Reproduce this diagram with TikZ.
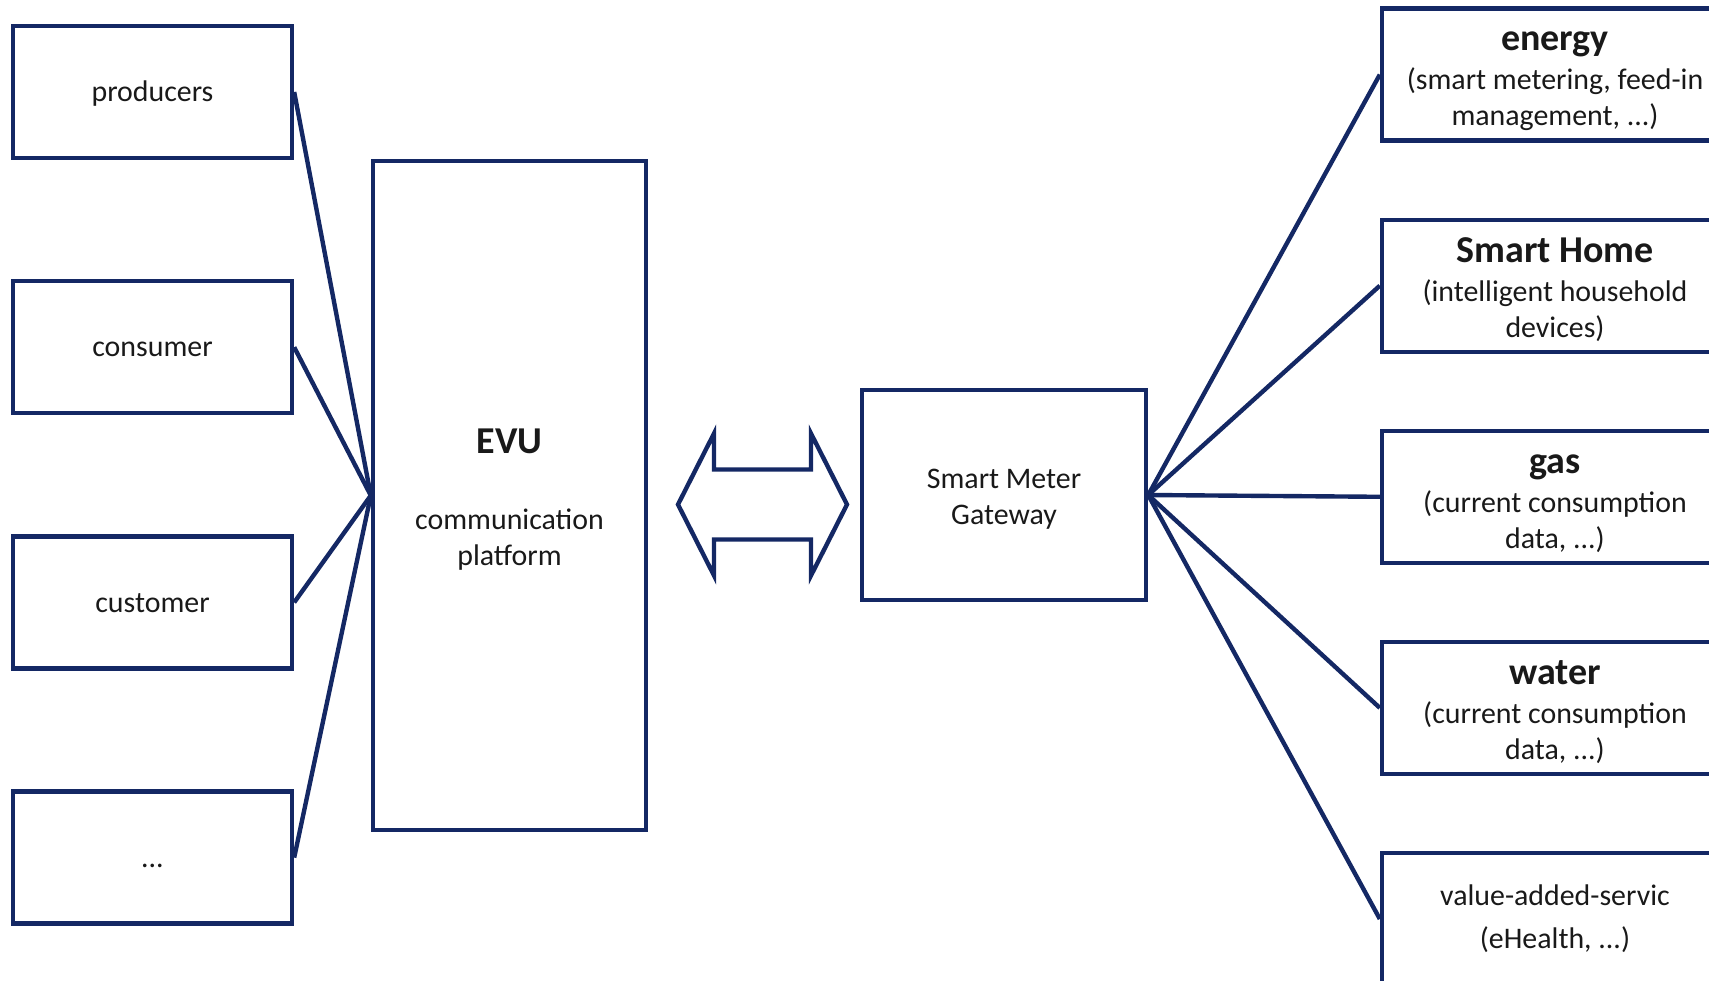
\documentclass[tikz,border=0pt]{standalone}
\usepackage{fontspec}
\setmainfont{Carlito}
\usepackage{tikz}
\usetikzlibrary{positioning,calc}
\usepackage{xcolor}

\definecolor{evublue}{RGB}{20,40,100}
\newcommand{\boxfont}{\fontsize{8.5pt}{10.2pt}\selectfont}
\newcommand{\titlefont}{\fontsize{10.8pt}{12pt}\selectfont\bfseries}
% bold first line of a box, with a strut so all titles sit alike
\newcommand{\boxtitle}[1]{{\titlefont\rule{0pt}{9.3pt}#1}}

\begin{document}
\begin{tikzpicture}[
    frame/.style={draw=evublue, line width=1.25pt},
    plainbox/.style={frame, inner sep=2pt, align=center, font=\boxfont, text=black!90},
    srcbox/.style={plainbox, minimum width=2.79cm, minimum height=1.32cm,
        text height=7.5pt, text depth=2pt},
    usebox/.style={plainbox, minimum width=3.46cm, minimum height=1.32cm},
    link/.style={draw=evublue, line width=1.25pt}
]
\useasboundingbox (0,0) rectangle (17.09,9.80);
\clip (0,0) rectangle (17.09,9.80);

% ---------------- Left column ----------------
\node[srcbox] (prod) at (1.525,8.88) {producers};
\node[srcbox, below=1.188cm of prod] (cons) {consumer};
\node[srcbox, below=1.188cm of cons] (cust) {customer};
\node[srcbox, below=1.188cm of cust] (etc) {...};

% ---------------- Platform and gateway ----------------
\node[plainbox, minimum width=2.73cm, minimum height=6.69cm] (evu) at (5.095,4.845)
    {\boxtitle{EVU}\\[11.5pt]communication\\platform};
\node[plainbox, minimum width=2.84cm, minimum height=2.10cm] (gw) at (10.04,4.85)
    {\rule{0pt}{8pt}Smart Meter\\Gateway};

% exchange arrow between both
\coordinate (xchg) at (7.625,4.755);
\draw[frame] (xchg) ++(-0.845,0) -- ++(0.36,0.71) -- ++(0,-0.36) -- ++(0.97,0)
    -- ++(0,0.36) -- ++(0.36,-0.71) -- ++(-0.36,-0.71) -- ++(0,0.36)
    -- ++(-0.97,0) -- ++(0,-0.36) -- cycle;

% ---------------- Right column ----------------
\node[usebox] (energy) at (15.55,9.054)
    {\boxtitle{energy}\\[0.9pt](smart metering, feed-in\\management, ...)};
\node[usebox, below=0.747cm of energy] (home)
    {\boxtitle{Smart Home}\\[0.9pt](intelligent household\\devices)};
\node[usebox, below=0.747cm of home] (gas)
    {\boxtitle{gas}\\[0.9pt](current consumption\\data, ...)};
\node[usebox, below=0.747cm of gas] (water)
    {\boxtitle{water}\\[0.9pt](current consumption\\data, ...)};
\node[usebox, below=0.747cm of water] (extra)
    {value-added-servic\\[2pt](eHealth, ...)};

% ---------------- Connectors ----------------
\foreach \n in {prod,cons,cust,etc}
    \draw[link] (\n.east) -- (evu.west);
\foreach \n in {energy,home,gas,water,extra}
    \draw[link] (gw.east) -- (\n.west);

\end{tikzpicture}
\end{document}
